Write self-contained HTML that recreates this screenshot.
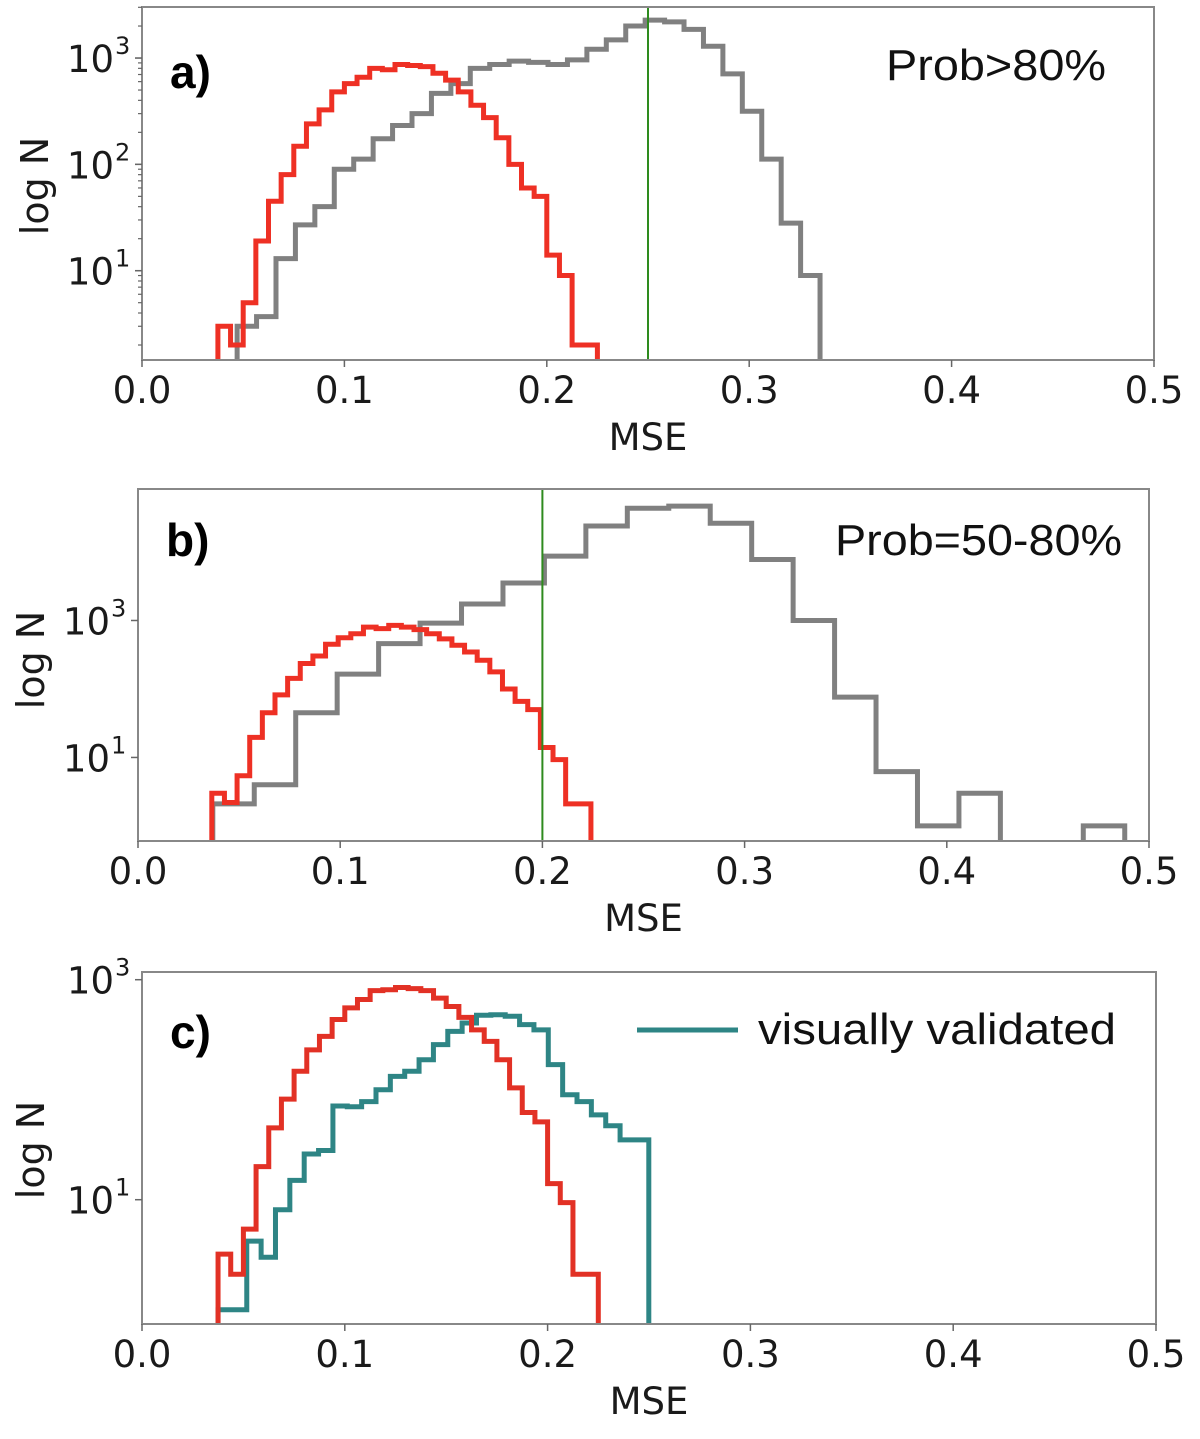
<!DOCTYPE html>
<html><head><meta charset="utf-8">
<style>
html,body{margin:0;padding:0;background:#fff;}
svg{display:block;font-family:"DejaVu Sans","Liberation Sans",sans-serif;}
</style></head>
<body>
<svg id="fig" width="1200" height="1439" viewBox="0 0 1200 1439"></svg>
<script>
// ---------- DATA ----------
const xTickLabels = ["0.0","0.1","0.2","0.3","0.4","0.5"];
const xTickValues = [0,0.1,0.2,0.3,0.4,0.5];

// Panel a (Prob>80%)
const aRedStart = 0.0375, aRedWidth = 0.00625;
const aRedCounts = [3,2,5,19,45,80,148,240,325,480,575,660,800,775,870,850,830,720,620,480,360,275,178,100,60,50,14,9,2,2];
const aGrayStart = 0.047, aGrayWidth = 0.0096;
const aGrayCounts = [3,3.7,13,27,40,90,112,174,232,300,465,575,800,870,935,910,870,960,1210,1480,2000,2270,2190,1860,1290,710,316,112,28,9];
const aThreshold = 0.25;

// Panel b (Prob=50-80%)
const bRedStart = 0.0365, bRedWidth = 0.00625;
const bRedCounts = [3,2.2,5.4,19.6,45,82,143,235,303,450,560,640,800,760,850,800,735,640,540,435,347,263,178,100,66,50,14,9.3,2.1,2.1];
const bGrayStart = 0.037, bGrayWidth = 0.0205;
const bGrayCounts = [2.1,4,45,165,460,915,1740,3520,8700,24000,43600,46800,26300,7760,1000,76,6.2,1,3,0,0,1];
const bThreshold = 0.2;

// Panel c (visually validated)
const cRedStart = 0.0375, cRedWidth = 0.00625;
const cRedCounts = [3.2,2.1,5.4,20,45,82,147,230,305,435,555,660,795,810,850,830,795,680,570,455,350,275,187,104,62,51,14,9.4,2.1,2.1];
const cTealStart = 0.0375, cTealWidth = 0.00708;
const cTealCounts = [1,1,4.2,3,8.1,15,26,28,71,70,78,100,132,147,187,257,339,404,475,480,465,390,350,169,90,78,59,47,35,35];

// y tick labels
const aYTicks = [1,2,3];
const bYTicks = [1,3];
const cYTicks = [1,3];

// ---------- DRAW ----------
const NS = "http://www.w3.org/2000/svg";
const svg = document.getElementById("fig");
function mk(tag, attrs, parent){
  const e = document.createElementNS(NS, tag);
  for (const k in attrs) e.setAttribute(k, attrs[k]);
  (parent||svg).appendChild(e);
  return e;
}

function panel(p){
  const g = mk("g", {});
  
  
  const xs = v => p.x0 + (v - 0) / 0.5 * (p.x1 - p.x0);
  const ys = l => p.yBottom - (l - p.logMin) / (p.logMax - p.logMin) * (p.yBottom - p.yTop);
  const yc = c => c > 0 ? ys(Math.log10(c)) : p.yBottom + 10;

  const clipId = "clip-" + p.id;
  const cp = mk("clipPath", {id: clipId}, g);
  mk("rect", {x:p.x0, y:p.yTop, width:p.x1-p.x0, height:p.yBottom-p.yTop}, cp);

  p.series.forEach(s => {
    let d = "M" + xs(s.start) + "," + (p.yBottom + 10);
    s.counts.forEach((c, i) => {
      const xa = xs(s.start + i * s.width), xb = xs(s.start + (i + 1) * s.width);
      const y = yc(c);
      d += " L" + xa + "," + y + " L" + xb + "," + y;
    });
    d += " L" + xs(s.start + s.counts.length * s.width) + "," + (p.yBottom + 10);
    const path = mk("path", {d:d, fill:"none", stroke:s.color, "stroke-width":5, "stroke-linejoin":"miter", "clip-path":"url(#"+clipId+")"}, g);
    
    
  });

  if (p.threshold !== undefined) {
    const ln = mk("line", {x1:xs(p.threshold), x2:xs(p.threshold), y1:p.yTop, y2:p.yBottom, stroke:"#2e8b1e", "stroke-width":2}, g);
    
    
  }

  const fr = mk("rect", {x:p.x0, y:p.yTop, width:p.x1-p.x0, height:p.yBottom-p.yTop, fill:"none", stroke:"#888", "stroke-width":2}, g);
  
  

  xTickValues.forEach((v, i) => {
    const x = xs(v);
    mk("line", {x1:x, x2:x, y1:p.yBottom, y2:p.yBottom+7, stroke:"#666", "stroke-width":1.5}, g);
    const t = mk("text", {x:x, y:p.yBottom+43, "font-size":37, "text-anchor":"middle", fill:"#1a1a1a"}, g);
    t.textContent = xTickLabels[i];
    
    
  });
  const xl = mk("text", {x:xs(0.25), y:p.yBottom+90, "font-size":37, "text-anchor":"middle", fill:"#1a1a1a"}, g);
  xl.textContent = "MSE";
  
  

  for (let k = Math.floor(p.logMin); k <= Math.ceil(p.logMax); k++) {
    if (p.minor) for (let m = 1; m <= 9; m++) {
      const l = k + Math.log10(m);
      if (l < p.logMin || l > p.logMax) continue;
      const y = ys(l);
      mk("line", {x1:p.x0-(m==1?7:4), x2:p.x0, y1:y, y2:y, stroke:"#666", "stroke-width":1.2}, g);
    }
  }
  p.yTicks.forEach(k => {
    const y = ys(k);
    mk("line", {x1:p.x0-7, x2:p.x0, y1:y, y2:y, stroke:"#666", "stroke-width":1.5}, g);
    const t = mk("text", {x:p.x0-28, y:y+14, "font-size":37, "text-anchor":"end", fill:"#1a1a1a"}, g);
    t.textContent = "10";
    
    
    const sup = mk("text", {x:p.x0-27, y:y-4, "font-size":24, "text-anchor":"start", fill:"#1a1a1a"}, g);
    sup.textContent = String(k);
    
    
  });
  const yl = mk("text", {x:0, y:0, "font-size":38, "text-anchor":"middle", fill:"#1a1a1a", transform:"translate("+(p.ylabX)+","+p.ylabY+") rotate(-90)"}, g);
  yl.textContent = "log N";
  
  

  const pl = mk("text", {x:p.x0+28, y:p.labY, "font-size":46, "font-weight":"bold", fill:"#000", "font-family":"Liberation Sans, sans-serif"}, g);
  pl.textContent = p.label;
  
  

  if (p.note) {
    const nt = mk("text", {x:p.noteX, y:p.noteY, "font-size":44, "text-anchor":"start", fill:"#111", "font-family":"Liberation Sans, sans-serif", textLength:p.noteW, lengthAdjust:"spacingAndGlyphs"}, g);
    nt.textContent = p.note;
    
    
  }
  return {g, xs, ys};
}

panel({id:"a", name:"panel-a", x0:142, x1:1154, yTop:7, yBottom:360, logMin:0.16, logMax:3.48,
  yTicks:aYTicks, minor:true, ylabX:48, ylabY:186, label:"a)", labY:88, note:"Prob>80%", noteX:886, noteW:220, noteY:80,
  threshold:aThreshold,
  series:[{name:"gray-histogram", color:"#808080", start:aGrayStart, width:aGrayWidth, counts:aGrayCounts},
          {name:"red-histogram", color:"#ee3024", start:aRedStart, width:aRedWidth, counts:aRedCounts}]});

panel({id:"b", name:"panel-b", x0:138, x1:1149, yTop:489, yBottom:841, logMin:-0.22, logMax:4.92,
  yTicks:bYTicks, minor:false, ylabX:44, ylabY:660, label:"b)", labY:556, note:"Prob=50-80%", noteX:835, noteW:287, noteY:555,
  threshold:bThreshold,
  series:[{name:"gray-histogram", color:"#808080", start:bGrayStart, width:bGrayWidth, counts:bGrayCounts},
          {name:"red-histogram", color:"#ee3024", start:bRedStart, width:bRedWidth, counts:bRedCounts}]});

panel({id:"c", name:"panel-c", x0:142, x1:1156, yTop:972, yBottom:1324, logMin:-0.13, logMax:3.07,
  yTicks:cYTicks, minor:false, ylabX:44, ylabY:1150, label:"c)", labY:1048,
  series:[{name:"teal-histogram", color:"#2e8585", start:cTealStart, width:cTealWidth, counts:cTealCounts},
          {name:"red-histogram", color:"#e23125", start:cRedStart, width:cRedWidth, counts:cRedCounts}]});

const lg = mk("g", {});


const ll = mk("line", {x1:637, x2:738, y1:1030, y2:1030, stroke:"#2e8585", "stroke-width":5}, lg);


const lt = mk("text", {x:758, y:1044, "font-size":44, fill:"#111", "font-family":"Liberation Sans, sans-serif", textLength:358, lengthAdjust:"spacingAndGlyphs"}, lg);
lt.textContent = "visually validated";


</script>
</body></html>
